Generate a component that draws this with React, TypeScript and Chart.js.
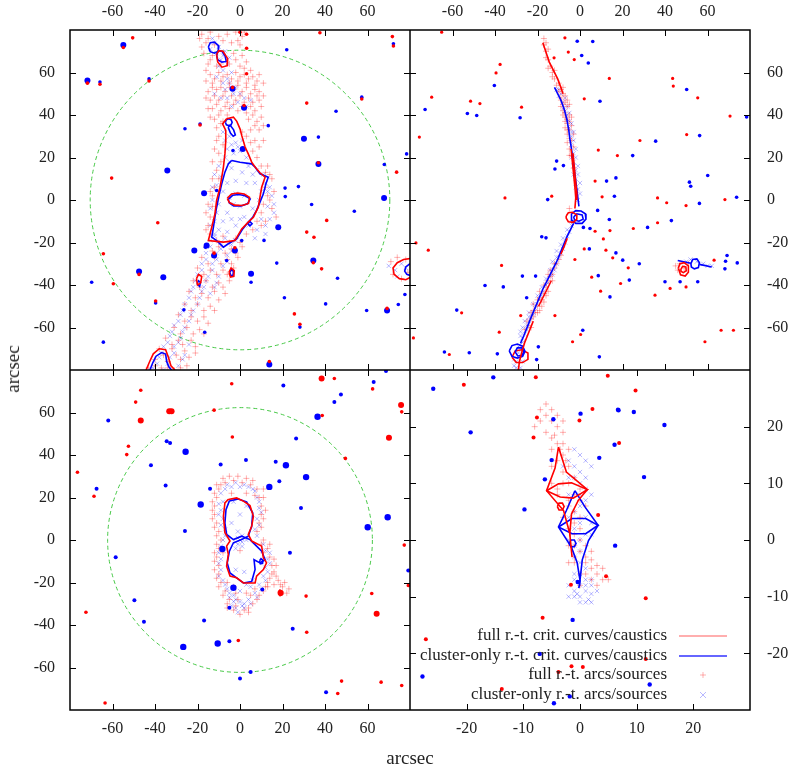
import React, { useEffect, useRef } from "react";
import { Chart, registerables } from "chart.js";
Chart.register(...registerables);

// ---------- axes ----------
const wideTicks = [-60, -40, -20, 0, 20, 40, 60];
const narrowTicks = [-20, -10, 0, 10, 20];
const wideRange = [-80, 80];
const narrowRange = [-30, 30];
const tlCircleRadius = 70.5;
const blCircleRadius = 62.3;
const axisTitle = "arcsec";
const legendLabels = [
  "full r.-t. crit. curves/caustics",
  "cluster-only r.-t. crit. curves/caustics",
  "full r.-t. arcs/sources",
  "cluster-only r.-t. arcs/sources",
];

// ---------- top-left panel ----------
const tlRedCrit = [-6.3,38.2, -3.1,39.0, -1.5,37, 0,33.5, 0.8,30.4, 2.4,24.9, 3.9,21.7, 5.5,17.8, 7.1,15.5, 9.4,12.8, 11.8,10.7, 10.2,6.0, 9.4,1.3, 8.6,-3.4, 6.3,-8.1, 3.9,-10.4, 0.8,-13.6, -2.4,-19.1, -7.8,-19.8, -14.9,-19.1, -13.3,-12.8, -11.8,-6.5, -11.0,-0.2, -9.4,6.0, -8.6,10.7, -7.8,15.5, -7.1,21.7, -6.7,28.0, -6.7,32.7, -8.2,35.8, -6.3,38.2];
const tlBlueCrit = [-3.9,18.6, 0,17.8, 5.5,17.0, 7.1,15.5, 9.4,12.3, 13.3,10.7, 12.2,7.6, 11.0,2.9, 9.4,-1.0, 7.8,-4.9, 6.0,-8.1, 3.9,-10.4, 1.3,-13.6, -1.6,-18.3, -5.5,-20.6, -7.8,-22.2, -11.0,-19.1, -13.3,-17.5, -12.5,-12.8, -11.8,-8.1, -11.0,-3.4, -9.7,2.9, -8.6,7.6, -7.1,13.1, -5.5,17.0, -3.9,18.6];
const tlRedInner = [-6,0.8, -4,2.8, -1,3.3, 2,2.8, 4.5,1.2, 4,-1.6, 1,-2.6, -2.5,-2.4, -5,-1.2, -6,0.8];
const tlBlueInner = [-5.5,0.3, -3.5,2.2, -0.5,2.6, 2.5,2, 4.8,0.5, 3.5,-1.8, 0.5,-2.8, -3,-2.8, -5,-1.4, -5.5,0.3];
const tlBlueTopCircle = [-6.9,36.6, -6.4,37.8, -5.3,38.2, -4.2,37.8, -3.7,36.6, -4.2,35.4, -5.3,35, -6.4,35.4, -6.9,36.6];
const tlBlueTopOval = [-5.6,34.3, -4.5,35, -3,33, -2.2,30.6, -3.2,30, -4.5,31.5, -5.6,34.3];
const tlBlueSmallLoop = [3.7,-11.2, 4.7,-10.2, 5.7,-11.2, 4.7,-12.2, 3.7,-11.2];
const tlRedTop = [-11,68.5, -10,70.3, -8,70, -5.8,66.5, -6,63.2, -8.5,62.5, -10.5,65, -11,68.5];
const tlBlueTop1 = [-14.9,72, -14,74, -12,74.3, -10,72.5, -10.2,70, -12,69.1, -14,69.8, -14.9,72];
const tlBlueTop2 = [-11,68, -10.3,70.2, -8.5,70, -7,67.8, -6.5,65.2, -8.5,64.9, -10.5,66, -11,68];
const tlRedBottom = [-44.2,-80, -42.5,-76, -40.8,-72.4, -38,-70, -35,-70.5, -33.7,-74, -32.5,-78, -30.6,-80];
const tlBlueBottom = [-42.4,-80, -41,-76.5, -39.5,-73.5, -36.9,-71.8, -35,-72.5, -34.5,-76, -33.5,-78.5, -32.2,-80];
const tlRedRight = [80,-27.5, 77,-28, 74,-29.5, 72,-32, 72.5,-35, 75,-37, 78,-37.5, 80,-36.5];
const tlBlueRight = [80,-30, 78,-31.5, 77.5,-33.5, 78.5,-35, 80,-35.5];
const tlRedSmall1 = [-20.5,-37, -19.5,-35, -18,-36, -18.5,-39, -20,-40, -20.5,-37];
const tlBlueSmall1 = [-20.2,-39.5, -19.5,-38, -18.6,-38.8, -19,-40.7, -20.2,-39.5];
const tlRedSmall2 = [-5.2,-34, -4.2,-32, -2.7,-33.2, -2.9,-35.9, -4.5,-36.3, -5.2,-34];
const tlBlueSmall2 = [-4.8,-34, -4,-32.8, -3.1,-33.6, -3.3,-35.4, -4.3,-35.7, -4.8,-34];

const tlArcsFull = [-18,78, -14,79, -10,77, -6,78, -2,79, 1,77, -16,74, -12,73, -4,74, 0,73, -17,69, -13,68, -3,69, 1,68, -15,64, -11,63, -5,64, 0,63, 3,65,
  -14,59, -10,60, -6,59, -2,60, 2,59, 6,58, -13,55, -9,56, -5,55, -1,56, 3,55, 7,54, -15,51, -11,52, -7,51, -3,52, 1,51, 5,50, 9,51, -14,47, -10,47, -6,46, -2,47, 2,46, 6,46, 9,47, -13,43, -9,42, -5,43, -1,42, 3,41, 7,42, -12,38, -8,37, 4,38, 8,37, -11,34, 5,33, 9,33,
  -12,57, -8,58, -4,57, 0,58, 4,57, 8,56, -13,53, -9,53, -5,53, -1,54, 3,53, 7,52, -12,49, -8,49, -4,49, 0,49, 4,48, 8,49, -11,45, -7,44, -3,45, 1,44, 5,44, -10,40, -6,40, 6,40, -9,36, 7,35,
  -19,76, -15,76, -8,75, -1,75, 2,79, -18,72, -14,66, -9,64, -2,66, 2,62, -16,61, 5,61, 9,59, 11,55, 11,49, 10,44, 10,39, 11,35, -16,56, -16,48, -15,43, -14,39,
  -10,30, -8,26, -10,22, -9,18, -11,14, -10,10, 3,30, 5,27, 6,23, 8,20, 10,16, 12,13, 14,12, 11,28, 9,25,
  -13,18, -12,24, -11,28, -13,10, -14,4, -15,-2, -16,-6, -16,-14, 13,16, 15,10, 14,0, 12,-10, 10,-12, 6,-14, 16,4, 7,28, 1,32,
  -12,6, -13,2, -13,-3, -14,-8, -15,-12, 12,6, 13,2, 11,-2, 10,-6, 8,-10, 15,-4, 17,-8,
  -14,-16, -8,-17, -2,-18, 3,-16, -16,-22, -10,-22, -4,-23, 1,-22, -18,-27, -12,-27, -6,-28, -1,-27, -20,-32, -14,-33, -8,-33, -3,-32, -22,-38, -16,-38, -10,-39, -5,-38, -24,-43, -18,-44, -12,-43, -7,-44, -26,-49, -20,-49, -14,-50, -29,-54, -23,-55, -17,-55, -31,-60, -25,-60, -19,-61, -35,-65, -29,-66, -23,-66, -38,-70, -32,-70, -26,-71, -21,-69, -40,-75, -34,-76, -28,-75, -43,-79, -37,-79, -31,-80, -25,-78,
  -11,-19, -5,-20, 0,-20, -13,-24, -7,-25, -2,-25, -15,-30, -9,-30, -4,-30, -17,-35, -11,-35, -6,-35, -19,-41, -13,-41, -8,-41, -21,-46, -15,-46, -10,-47, -23,-52, -17,-52, -12,-52, -26,-57, -20,-57, -15,-58, -28,-63, -22,-63, -17,-63, -32,-68, -27,-68, -21,-72, -36,-73, -30,-73, -24,-74, -40,-78, -34,-79, -28,-79,
  71,-29, 74,-27, 78,-28, 72,-35, 76,-37, 79,-34];
const tlArcsCluster = [-13,76, -10,72, -7,70, -9,66, -6,64, -14,71, -8,61, -5,55, -3,50, -1,46, -7,52, -4,44, 2,48, -9,48,
  -12,74, -11,69, -8,68, -5,67, -10,63, -4,60, -6,57, -2,53, 0,50, -8,55, -11,58, -12,50, -6,48, 3,44, 5,47,
  -8,32, -5,30, -2,27, 1,28, -6,24, -3,22, 0,23, 3,20, -4,15, 1,13, 6,12, 11,12, -9,11, -11,7, -8,4, -5,1, -10,-2, -11,-6, -12,-10, -10,-14, -6,-15, -2,-12, 2,-8, 6,-4, 9,0, 10,4, 12,8, 14,6, -2,3, 0,-3, -3,-2, 2,2, 13,-3, 16,-6, 10,-9,
  -7,28, -4,26, -1,25, 2,24, -7,20, -5,18, 4,16, 8,14, -10,16, -12,12, -13,6, -13,0, -14,-4, -14,-12, -12,-16, -8,-10, -6,-6, -4,-9, 0,-9, 4,-12, 8,-14, 12,-12, 14,-9, 16,-2, 15,2, 13,4, 7,8, 3,8, -2,9, -6,8, 12,-16, 7,-18,
  -14,-19, -9,-20, -4,-21, -16,-25, -11,-25, -6,-26, -18,-30, -13,-30, -8,-31, -20,-35, -15,-36, -10,-36, -22,-41, -17,-41, -12,-41, -24,-46, -19,-46, -27,-52, -22,-52, -29,-57, -24,-57, -32,-62, -27,-62, -34,-67, -29,-67, -24,-68, -37,-72, -31,-72, -26,-73, -39,-77, -34,-77, -29,-78,
  -12,-17, -7,-18, -2,-19, -14,-22, -9,-23, -4,-24, -16,-28, -11,-28, -6,-29, -18,-33, -13,-33, -21,-38, -16,-38, -11,-39, -23,-43, -18,-43, -14,-44, -26,-49, -20,-49, -28,-54, -23,-54, -31,-59, -26,-60, -33,-64, -28,-65, -36,-69, -31,-69, -38,-74, -33,-74, -27,-75, -41,-79, -36,-80,
  70,-31, 73,-33, 76,-30, 74,-36, 78,-32];
const tlBlueBlobs = [-71.8,56.2, -54.9,73, -34.2,13.9, -16.9,3.2, 30.1,28.8, 36.9,16.9, 18,-12.8, -47.5,-33.6, -36.1,-36.3, 5.2,-34.7, 34.5,-28.5, 69.2,-52, 13.8,-77.4, -15.7,-21.4, -21.5,-23.8, -12.2,-26.1, -2.4,-23.8, 1.3,24, 67.8,0.9, -3.5,52.3, 1.9,43.4];
const tlBlueDots = [0.8,-19.1, -11,4.5, -3.3,23.3, 53.8,-5.3, 33.7,-2.1, 27.5,6.3, 21.2,5.6, 21.3,1.6, 11.3,-19, 45.2,41.8, 57.3,48.4, 36.9,29.6, 13.3,35, -25.9,33.5, -18.8,35.8, 5.2,-38.7, 45.9,-36.8, 17.3,-29.7, 20.9,-46, 40.3,-48.9, 28.2,-59.8, -26.4,-51.7, -16.6,-62.2, -42.8,57, 72.2,73.5, 67.9,16.7, 78.4,21.7, 74.5,-49.2, 77.6,-44.5, 59.6,-52, -64.3,-66.9, -65.9,55.5, 22,70.7, -6.3,-28.5, -16.3,-22.2, -69.8,-38.7, -39.7,-48.5];
const tlRedDots = [-71.8,55, -54.9,71.8, -42.8,56, -47.5,-35, 36.9,17.5, 72.2,72.5, 57.3,47.5, 38.4,-32.4, 34.5,-29.5, 28.2,-58.5, 25.6,-53.6, 69.2,-51, -39.7,-47.5, -12.2,-25, 13.8,-76, -2.4,-22.5, 1.9,44.5, -3.5,53, 31.4,45.6, -60.4,10.3, -38.7,-10.7, 31.4,-15.1, 34.8,-17.5, 40.8,-9.6, 73.7,13.1, -64.3,-25.3, -50.5,76.3, 37.6,78.7, 71.7,76.9, -59.6,-39.4, 0,79, 3.1,78, 3.1,71.4, 3.1,59.4, -18.8,35.3, -65.9,54.5];

// ---------- top-right panel ----------
const trRedA = [-17.5,74, -16,69.5, -14.5,65, -12.5,61, -10.5,57, -9,53, -8,50];
const trRedC = [-4.2,24, -3.6,18, -3.0,12, -2.4,6, -2.0,1, -2.4,-4];
const trRedC2 = [-3.3,22, -2.7,16, -2.2,10, -1.6,4, -1.5,0];
const trRedD = [-6,-18, -7.5,-22, -9,-25.5];
const trRedE = [-13.5,-38, -15.5,-42, -17.5,-46, -19.5,-50];
const trRedF = [-22,-57, -24,-62, -26,-67, -27.5,-72, -28.5,-76, -29,-80];
const trBlueA = [-12,53, -10.5,50, -9,47, -7.5,43, -6.2,38, -5.3,33, -4.8,29, -4,24, -3.2,18, -2.4,12, -1.6,6, -1,1, -0.5,-3];
const trBlueC = [-3,-11, -4,-13, -6,-17, -8.5,-23, -10.5,-28, -13,-33, -15,-37, -17.5,-42, -20,-48, -22.5,-54, -24.5,-59, -26.5,-64, -28,-67.5];
const trRedLoop1 = [-6.5,-7.5, -5.5,-6, -3.5,-5.8, -1.5,-7, -1.5,-9, -3,-10.5, -5.5,-10.2, -6.5,-8.5, -6.5,-7.5];
const trBlueLoop1 = [-4,-6.5, -2,-5, 0.5,-5.2, 2.5,-6.5, 2.8,-9, 1,-11, -2,-11, -3.8,-9.5, -4,-6.5];
const trBlueLoop2 = [-3,-8, -1.5,-6.5, 1,-7, 1.5,-9, -0.5,-10, -2.5,-9.5, -3,-8];
const trBlueLoop3 = [-33.3,-71, -32,-68.5, -29.5,-67.8, -27,-68.8, -25.9,-71.2, -27,-73.6, -29.5,-74.4, -32,-73.6, -33.3,-71];
const trBlueLoop3b = [-30.5,-71.5, -29.5,-69.6, -27.5,-69.5, -26.4,-71.3, -27.3,-73.2, -29.3,-73.4, -30.5,-71.5];
const trRedLoop3 = [-32,-74, -30.5,-71, -27.5,-70.5, -24.5,-72, -24.5,-75, -27,-76.5, -30,-76.5, -32,-74];
const trRedLoop4 = [46.3,-32, 47,-30, 49,-29.5, 51,-31, 51,-34, 49.5,-35.8, 47.3,-35.2, 46.3,-32];
const trRedLoop4b = [47.5,-32.5, 48.3,-31.2, 49.8,-31.5, 50,-33.3, 48.6,-34.2, 47.5,-33.5, 47.5,-32.5];
const trBlueLoop4 = [52.2,-30, 53,-28, 55,-27.7, 56.2,-29.5, 55.7,-31.8, 53.8,-32.4, 52.4,-31.5, 52.2,-30];
const trBlueTail1 = [46,-28.5, 52.2,-29.8];
const trBlueTail2 = [56.2,-30.3, 62,-31.5];

const trArcsFull = [-17,73, -16,70, -15,66, -15,62, -13,60, -12,57, -11,54, -10,51, -9,48, -8,45, -8,42, -7,39, -6,36, -5,33, -6,31, -4,28, -5,24, -4,21, -6,44, -7,41, -9,47, -4,35, -7,46, -5,40, -6,38, -8,50, -10,55, -14,63, -3,15,
  -9,52, -8,53, -7,49, -6,47, -5,45, -9,44, -8,40, -7,37, -5,37, -4,39, -6,33, -7,34, -3,31, -5,29, -6,27, -3,25, -5,21, -13,58, -12,61, -16,67, -15,71, -17,76, -16,74,
  -10,-28, -12,-32, -13,-35, -15,-38, -16,-41, -17,-44, -18,-47, -20,-50, -21,-53, -23,-56, -24,-59, -14,-36, -19,-46, -22,-52, -11,-30, -16,-45, -18,-50, -20,-53, -4,-10, -5,-4,
  -9,-26, -12,-30, -14,-33, -15,-35, -13,-38, -17,-40, -15,-43, -19,-43, -20,-47, -17,-48, -22,-49, -19,-52, -23,-53, -22,-55, -25,-57, -23,-60, -26,-61,
  45,-31, 47,-30, 49,-32, 51,-30, 46,-33];
const trArcsCluster = [-11,52, -10,49, -8,46, -7,42, -6,38, -5,34, -4,30, -4,26, -3,22, -3,18, -2,14, -2,10, -1,5, -1,0, -3,-10, -5,-15, -7,-20, -8,-23, -10,-27, -12,-31, -13,-35, -15,-39, -17,-43, -19,-47, -21,-51, -23,-55, -25,-59, -26,-63, -27,-67, -29,-72, -30,-76, -30,-79, -28,-62, -24,-57, -9,-25, -6,-17, -11,-30, -14,-36, -22,-54, -27,-65,
  -10,52, -9,50, -7,48, -6,44, -8,43, -5,41, -6,40, -4,36, -5,37, -3,32, -4,32, -3,28, -2,24, -4,20, -2,20, -1,16, -3,16, -1,12, -3,12, 0,8, -2,6, 0,3, -4,-12, -6,-14, -8,-18, -9,-21, -11,-24, -11,-27, -13,-29, -12,-33, -14,-33, -16,-37, -16,-40, -18,-41, -18,-45, -20,-45, -20,-49, -22,-49, -22,-53, -24,-53, -24,-55, -26,-57, -25,-61, -27,-60, -28,-64, -29,-69, -31,-75, -31,-78, -28,-79, -27,-76,
  52,-28, 55,-29, 58,-30, 60,-31, 62,-31, 50,-29];
const trRedDots = [-65.1,79, -7.1,76.3, -5.5,69.6, -2.7,66.1, -12.2,66.9, -37.6,63.8, -39.5,59.8, 13.8,57.2, 43.6,57.2, 43.9,53.6, 55.4,48.1, 70.6,39.5, 50.2,30.8, 28.2,28, 8.6,23.5, 17.6,20.9, 7.1,8.9, 10.4,1.5, -13.3,1.8, -35.3,1, -51.5,46.5, -47.1,45.4, -27.5,43.7, -69.8,48.4, -75.6,29.6, 2,47.6, -71.4,-23.6, -77.2,-20.2, 36.5,1, 40.8,-1.3, 49.9,-2.6, 68.2,0.2, 36.5,-10.7, 25.1,-13.4, 14.1,-14.4, 11,-18.3, 12.2,-23.6, 15.4,-27.2, 22.7,-31.9, 19.1,-39.3, 5.5,-36.3, 9.7,-42.9, 35.3,-44.8, 42.4,-41.6, 49.9,-40.9, 2,-23, -2.4,-28, -11.8,-54.4, -27.9,-54.4, -38,-62.2, -55.7,-53.1, -61.5,-72.7, 0.3,-63.3, -3.5,-66.7, 58.8,-66.7, 66.4,-61.3, 72.2,-61.3, 63.1,-28.3, -78.4,-64.9, -36.9,-30.8, 7.1,-14.7];
const trBlueDots = [-1.3,74.7, 6,74.6, 0.8,68, 3.9,64.5, 9.4,46.5, -40.3,53.9, -53,40.7, -72.9,42.6, -48.6,39.8, -28.2,38.7, 50.2,52, 56.3,30.3, 35.6,27.7, 24.8,20.9, 16.9,10.4, 12.5,8.9, 16.2,1.8, -15.2,0.2, -11.8,14.6, -7.8,16.2, -11,18.3, 8.3,-4.9, 13.8,-9.2, 1.6,-12.9, 4.7,-13.4, -18,-17.3, -16,-17.8, 4.4,-23, 16.9,-24.9, 20.1,-28.3, 27.9,-30, 31.8,-12.9, 43,-9.7, 56.2,-1.6, 52.1,6.5, 51.5,8.4, 60.1,11.5, 73.7,1.3, 78.4,39.1, 69.2,-26.1, 68.5,-28.8, 74,-29.6, 68.2,-32.4, 55.4,-38.5, 47.1,-38.5, 40,-38.5, 23.2,-37.7, 14.1,-45.6, 8.6,-35.6, -25.1,-46, -20.9,-35.8, -27.1,-35.8, -36.1,-40.9, -44.7,-40.2, -58,-51.8, -63.8,-71.5, -52.1,-71.9, -38.9,-72.4, -20.4,-75.1, 1.3,-61.3, 9.1,-73.8, -19.6,-69.1];

// ---------- bottom-left panel ----------
const blRedCrit = [-5.5,19.1, -1.6,19.8, 1.6,18.3, 4.7,16.2, 6.3,11.2, 5.5,6.5, 3.9,2.6, 5.5,-0.5, 10.2,-2.9, 11,-8.4, 12.5,-10.7, 11,-13.9, 7.8,-17, 7.1,-20.2, 1.6,-20.2, -1.6,-17.8, -4.7,-17, -6.3,-12.3, -5.5,-6.8, -6.3,-2.9, -4.7,-0.5, -7.1,3.4, -7.8,11.2, -7.1,17.5, -5.5,19.1];
const blBlueCrit = [-5,18.4, -0.8,19.3, 3.1,17.9, 6,12.7, 5.5,6.5, 3.9,1.8, 0.8,0.2, -3.1,-1.3, -5,-5.3, -6,-10.8, -4.7,-15.5, -1.6,-17.8, 1.6,-20.2, 5.5,-19.5, 7.1,-13.9, 6.6,-9.3, 9.4,-10.8, 11.8,-9.3, 10.2,-5.3, 7.8,-2.9, 4.7,0.2, 0.8,1.8, -3.1,0.2, -6.3,2.6, -7.1,8, -6.6,14.3, -5,18.4];
const blBlueLoop = [9.2,-9.8, 9.9,-8.8, 10.8,-9.6, 10.6,-11, 9.6,-11.2, 9.2,-9.8];
const blRedLoop = [18,-24.5, 18.8,-23.5, 20,-24.2, 20,-25.6, 18.9,-26.2, 18,-24.5];

const blArcsFull = [-7,27, -3,28, 1,27, 5,26, 8,24, -10,24, -11,20, -12,16, -12,12, -11,8, -10,4, 9,20, 10,16, 10,12, 9,8, 8,4, -9,0, -10,-4, -11,-8, -10,-12, -10,-16, -9,-20, -7,-24, -5,-28, -2,-31, 2,-33, 6,-30, 9,-26, 12,-22, 14,-18, 16,-15, 18,-19, 20,-22, 22,-25, 15,-12, 14,-8, 13,-4, 11,0, -2,-25, 3,-25, 7,-23, -4,22, 3,22, 0,-5, -8,-6, -9,26, 7,21, 11,-6, 16,-21, 13,-20, 4,-34, -6,-32,
  -8,29, -5,30, -1,30, 3,29, 6,28, -11,26, -12,22, -13,18, -13,14, -13,10, -12,6, -11,2, -11,-2, -12,-6, -12,-10, -12,-14, -11,-18, -10,-22, -8,-26, -6,-30, -3,-33, 0,-35, 4,-32, 8,-28, 11,-24, 13,-22, 15,-16, 17,-17, 19,-21, 21,-20, 23,-23, 17,-12, 16,-9, 14,-2, 10,-2, 11,20, 11,24, 12,14, 11,10, 10,6, -6,-20, -3,-22, 5,-26, -1,-28];
const blArcsCluster = [-6,26, -2,27, 2,26, 6,24, -9,22, -10,17, -10,12, -9,7, 8,20, 9,15, 8,10, 7,5, -7,2, -1,4, 1,2, -2,-1, -9,-3, -9,-9, -9,-14, -8,-19, -6,-23, -3,-26, 0,-29, 4,-28, 7,-25, 9,-21, 11,-17, 12,-13, 13,-9, -4,-31, -1,-34, 2,-30, -5,-27, 5,-22, -4,8, 0,12, 3,16, -3,18, 0,0, -1,1, 1,-1,
  -7,24, -4,25, 0,25, 4,25, 7,23, -8,18, -9,14, -8,10, -7,5, 9,18, 10,13, 9,7, 8,2, -8,0, -10,-6, -10,-11, -10,-17, -7,-21, -5,-25, -2,-28, 1,-31, 5,-30, 8,-27, 10,-23, 12,-19, 13,-15, 14,-11, 14,-6, 12,-5, 11,-2, 2,-32, -2,-32, -3,-29, 0,-24, 3,-21, 6,-19, 2,-15, -2,-14, -2,-4, 1,-3, 3,0, -1,-2];
const blRedBlobs = [38.4,76, -46.7,56.2, -33.3,60.6, -32.2,60.6, 70.1,48.1, 64.3,-34.7, 19.1,-24.9, 75.8,63.5];
const blRedDots = [-46.7,70.5, -49.1,64.9, -12.2,61.1, -3.9,73.5, 44.4,76, 62.4,71.1, 76.1,60.3, 38.7,58.6, 49.6,38.4, -3.6,48.5, -52.5,44.1, -53.3,40.2, -76.5,31.9, -68.7,20.6, 77.3,-2.4, 79.2,-21.4, 62,-25.2, 31.1,-26.4, 31.4,-43.4, -72.5,-34, -0.8,-47.3, 47.8,-66.4, 46,-72.2, 66.4,-66.9, 76.1,-68.5, -63.5,-76.7];
const blBlueBlobs = [-25.6,41.5, -18.5,16.7, 13.8,25, 21.6,35.2, 31.1,29.6, 60.1,6, -26.7,-50.3, -10.5,-48.7, 69.5,10.7, -3.1,-22.5, -8.3,-4.2, 36.5,58];
const blBlueDots = [-62,56.2, -41.9,35.2, -34.5,46.5, -32.9,45.7, -35,25.6, -25.9,4.2, -14.1,24.1, -9.1,35.5, 2.8,37.6, 16.8,36.8, 18.5,27.7, 26.4,47.8, 28.7,15.1, 44.4,65, 47.5,68.5, 20.4,72.7, 62.9,74.3, 68.7,79.5, -67.5,24.1, -58.5,-8.1, 23.5,-6, 10.5,-23.3, -5,-31.9, -49.7,-28.3, -45.2,-38.5, -16.9,-37.9, -5,-47.6, 5,-62.1, 0,-65.2, 24.8,-41.8, 40.5,-71.6, 79.2,-14.4];

// ---------- bottom-right panel ----------
const brRedCaustic = [-3.8,16.4, -4.4,12.7, -5.9,8.7, -2.9,5.2, -1.8,1.1, -1.5,4.6, -0.3,7, 1.3,8.9, -2.4,12, -3.8,16.4];
const brRedLens = [-5.9,8.7, -3.8,9.9, -1.5,10.1, 1.3,8.9, -1.2,7.4, -3.5,7.6, -5.9,8.7];
const brRedTail = [-1.8,1.1, -1.6,-1, -1.4,-3];
const brRedCircle = [-4,5.9, -3.7,6.5, -3.1,6.5, -2.8,5.9, -3.1,5.3, -3.7,5.3, -4,5.9];
const brBlueCaustic = [-0.9,8.7, -2.4,5.2, -3.8,2.3, -1.5,-1.3, -0.5,-4, 0,-7.1, 0.4,-3.5, 1.5,-0.1, 3.2,2.6, 0.9,5.8, -0.9,8.7];
const brBlueLens = [-3.8,2.3, -1.4,3.8, 1,3.8, 3.2,2.6, 1,1.1, -1.4,1.1, -3.8,2.3];
const brBlueTail = [0,-7.1, -0.2,-8.5];
const brBlueCircle = [-1.9,-0.6, -1.6,0, -1,0, -0.7,-0.6, -1,-1.2, -1.6,-1.2, -1.9,-0.6];

const brArcsFull = [-6,22, -5,21, -4,20, -6,19, -5,18, -3,19, -4,17, -5,16, -3,15, -4,14, -2,13, -3,12, -1,11, -2,10, -4,9, -1,8, 0,7, -2,6, -1,5, 0,4, -1,3, -1,1, 0,0, -1,-1, 0,-2, 1,-3, 1,-4, 2,-5, 3,-6, 4,-7, -1,-4, 0,-6, -7,23, -8,20, -4.5,18.5, -3.5,16, -2.5,14, 2,-3.5, 3,-4.5,
  -6,24, -7,21, -5,23, -4,22, -3,21, -3,17, -2,16, -5,13, -3,10, -5,10, -4,8, -2,7, 0,9, 1,6, -3,4, 0,2, -2,-1, -1,-3, 1,-1, 2,-2, 1,-6, 2,-7, 3,-8, 5,-7, 4,-5, -2,2, -2,-4, 0,-8];
const brArcsCluster = [-2,14, -1,13, 0,12, -1,11, 0,10, 1,9, 0,8, -2,8, 1,7, 0,6, -1,5, 1,4, 0,3, -1,2, 1,1, 0,0, -1,-1, 0,-2, -1,-3, 0,-4, 1,-5, 0,-6, -1,-7, 0,-8, 1,-8, -1,-9, 0,-10, 1,-9, 2,-7, 1,14, -3,13, 2,-9.5, -0.5,-9.5, 1.5,-10.5,
  -1,-6, 1,-7, 2,-8, -1,-10, 1,-11, 0,-11, 2,-11, 3,-9, -2,-8, -2,-10, -1,16, 0,15, 2,13, -2,11, 1,11, 2,8, -2,4, 2,3, 2,1, -2,0];
const brRedDots = [-8.2,18.1, -0.1,21.1, 2.2,23.1, 6.9,17.1, 3.2,4.4, 4.6,-6.4, -1.6,-7.9, 11.6,-10.3, -7.6,21.6, 4.9,29, 9.8,26.4, -20.5,27.4, -7.8,28.7, -6.6,-13.7, -27.2,-17.5, -1.5,-22.3, -3.8,-23.3, -13.8,-26.3, 0.5,-22.4, 11.6,-21];
const brBlueDots = [-5,14.1, -6.2,10.7, 3.4,14.5, 6.1,16.8, 6.8,22.9, 9.5,22.6, 0.1,22.3, 11.3,11.1, -9.8,5.4, 6.2,-1, -0.4,-7.4, -15.3,28.7, -25.9,26.7, -19.3,19, -4.7,21.3, 6.7,23, 14.9,20.3, -1.3,-14.1, -7.1,-20.1, -27.8,-24.1, -1.8,-27.6, 12.3,-25.5, -4.6,-28.8];

// ---------- styling helpers ----------
const FONT = "'Liberation Serif', 'Times New Roman', serif";
const RED = "#ff0000";
const BLUE = "#0000ff";
const RED_ARC = "rgba(255,0,0,0.3)";
const BLUE_ARC = "rgba(0,0,255,0.28)";

const toPoints = (a: number[]) => {
  const out: { x: number; y: number }[] = [];
  for (let i = 0; i < a.length; i += 2) out.push({ x: a[i], y: a[i + 1] });
  return out;
};
const curve = (a: number[], color: string) => ({
  data: toPoints(a), showLine: true, borderColor: color, borderWidth: 1.6,
  pointRadius: 0, fill: false, tension: 0, order: 0,
});
const dots = (a: number[], color: string, r: number) => ({
  data: toPoints(a), showLine: false, pointRadius: r, pointStyle: "circle",
  backgroundColor: color, borderColor: color, borderWidth: 0, order: 1,
});
const arcs = (a: number[], full: boolean) => ({
  data: toPoints(a), showLine: false, pointRadius: 3,
  pointStyle: full ? "cross" : "crossRot",
  borderColor: full ? RED_ARC : BLUE_ARC, backgroundColor: "transparent",
  borderWidth: 1, order: 2,
});

type PanelProps = {
  left: number; top: number; width: number; height: number;
  xPos: "top" | "bottom"; yPos: "left" | "right";
  range: number[]; ticks: number[]; datasets: any[];
  circleR?: number; legend?: boolean;
};

function Panel(p: PanelProps) {
  const ref = useRef<HTMLCanvasElement>(null);
  useEffect(() => {
    const canvas = ref.current!;
    const xSize = p.height - 340;
    const ySize = p.width - 340;
    const frame = {
      id: "frame",
      beforeDatasetsDraw(chart: any) {
        if (!p.circleR) return;
        const { ctx, scales } = chart;
        const cx = scales.x.getPixelForValue(0);
        const cy = scales.y.getPixelForValue(0);
        const r = scales.x.getPixelForValue(p.circleR) - cx;
        ctx.save();
        ctx.strokeStyle = "rgb(70,200,70)";
        ctx.lineWidth = 1;
        ctx.setLineDash([4, 3]);
        ctx.beginPath();
        ctx.arc(cx, cy, r, 0, Math.PI * 2);
        ctx.stroke();
        ctx.restore();
      },
      afterDatasetsDraw(chart: any) {
        if (!p.legend) return;
        const { ctx, chartArea } = chart;
        const textRight = chartArea.left + 257;
        const sx0 = chartArea.left + 269;
        const sx1 = chartArea.left + 317;
        const mx = (sx0 + sx1) / 2;
        const rows = [266, 286, 305, 325];
        ctx.save();
        ctx.font = `17px ${FONT}`;
        ctx.fillStyle = "#222";
        ctx.textAlign = "right";
        ctx.textBaseline = "middle";
        legendLabels.forEach((t, i) => ctx.fillText(t, textRight, rows[i]));
        ctx.lineWidth = 1.5;
        ctx.strokeStyle = "rgba(255,60,60,0.55)";
        ctx.beginPath(); ctx.moveTo(sx0, rows[0]); ctx.lineTo(sx1, rows[0]); ctx.stroke();
        ctx.strokeStyle = "rgba(0,0,255,0.8)";
        ctx.beginPath(); ctx.moveTo(sx0, rows[1]); ctx.lineTo(sx1, rows[1]); ctx.stroke();
        ctx.lineWidth = 1;
        ctx.strokeStyle = RED_ARC;
        ctx.beginPath();
        ctx.moveTo(mx - 3, rows[2]); ctx.lineTo(mx + 3, rows[2]);
        ctx.moveTo(mx, rows[2] - 3); ctx.lineTo(mx, rows[2] + 3);
        ctx.stroke();
        ctx.strokeStyle = BLUE_ARC;
        ctx.beginPath();
        ctx.moveTo(mx - 3, rows[3] - 3); ctx.lineTo(mx + 3, rows[3] + 3);
        ctx.moveTo(mx - 3, rows[3] + 3); ctx.lineTo(mx + 3, rows[3] - 3);
        ctx.stroke();
        ctx.restore();
      },
      afterDraw(chart: any) {
        const { ctx, chartArea, scales } = chart;
        const { left, right, top, bottom } = chartArea;
        ctx.save();
        ctx.strokeStyle = "#000";
        ctx.lineWidth = 1;
        ctx.beginPath();
        p.ticks.forEach((v) => {
          const px = Math.round(scales.x.getPixelForValue(v)) + 0.5;
          ctx.moveTo(px, top); ctx.lineTo(px, top + 6);
          ctx.moveTo(px, bottom); ctx.lineTo(px, bottom - 6);
          const py = Math.round(scales.y.getPixelForValue(v)) + 0.5;
          ctx.moveTo(left, py); ctx.lineTo(left + 6, py);
          ctx.moveTo(right, py); ctx.lineTo(right - 6, py);
        });
        ctx.stroke();
        ctx.lineWidth = 1.5;
        ctx.strokeRect(left, top, right - left, bottom - top);
        ctx.restore();
      },
    };
    const tickFont = { family: FONT, size: 16 };
    const chart = new Chart(canvas, {
      type: "scatter",
      data: { datasets: p.datasets },
      options: {
        responsive: false,
        animation: false,
        devicePixelRatio: 1,
        events: [],
        layout: { padding: 0, autoPadding: false },
        plugins: { legend: { display: false }, tooltip: { enabled: false } },
        scales: {
          x: {
            type: "linear", position: p.xPos, min: p.range[0], max: p.range[1],
            afterBuildTicks: (s: any) => { s.ticks = p.ticks.map((v) => ({ value: v })); },
            afterFit: (s: any) => { s.height = xSize; s.paddingLeft = 0; s.paddingRight = 0; s.paddingTop = 0; s.paddingBottom = 0; },
            grid: { display: false, drawTicks: false },
            border: { display: false },
            ticks: { font: tickFont, color: "#222", padding: 9, maxRotation: 0, autoSkip: false, callback: (v: any) => String(v) },
          },
          y: {
            type: "linear", position: p.yPos, min: p.range[0], max: p.range[1],
            afterBuildTicks: (s: any) => { s.ticks = p.ticks.map((v) => ({ value: v })); },
            afterFit: (s: any) => { s.width = ySize; s.paddingLeft = 0; s.paddingRight = 0; s.paddingTop = 0; s.paddingBottom = 0; },
            grid: { display: false, drawTicks: false },
            border: { display: false },
            ticks: { font: tickFont, color: "#222", padding: p.yPos === "left" ? 15 : 17, autoSkip: false, callback: (v: any) => String(v) },
          },
        },
      } as any,
      plugins: [frame],
    });
    return () => chart.destroy();
  }, []);
  return (
    <canvas
      ref={ref}
      width={p.width}
      height={p.height}
      style={{ position: "absolute", left: p.left, top: p.top, width: p.width, height: p.height }}
    />
  );
}

const tlDatasets = [
  curve(tlRedCrit, RED), curve(tlBlueCrit, BLUE), curve(tlRedInner, RED), curve(tlBlueInner, BLUE),
  curve(tlBlueTopCircle, BLUE), curve(tlBlueTopOval, BLUE), curve(tlBlueSmallLoop, BLUE),
  curve(tlRedTop, RED), curve(tlBlueTop1, BLUE), curve(tlBlueTop2, BLUE),
  curve(tlRedBottom, RED), curve(tlBlueBottom, BLUE), curve(tlRedRight, RED), curve(tlBlueRight, BLUE),
  curve(tlRedSmall1, RED), curve(tlBlueSmall1, BLUE), curve(tlRedSmall2, RED), curve(tlBlueSmall2, BLUE),
  dots(tlRedDots, RED, 1.8), dots(tlBlueBlobs, BLUE, 3), dots(tlBlueDots, BLUE, 1.8),
  arcs(tlArcsFull, true), arcs(tlArcsCluster, false),
];
const trDatasets = [
  curve(trRedA, RED), curve(trRedC, RED), curve(trRedC2, RED), curve(trRedD, RED),
  curve(trRedE, RED), curve(trRedF, RED), curve(trBlueA, BLUE), curve(trBlueC, BLUE),
  curve(trRedLoop1, RED), curve(trBlueLoop1, BLUE), curve(trBlueLoop2, BLUE),
  curve(trBlueLoop3, BLUE), curve(trBlueLoop3b, BLUE), curve(trRedLoop3, RED), curve(trRedLoop4, RED),
  curve(trRedLoop4b, RED), curve(trBlueLoop4, BLUE), curve(trBlueTail1, BLUE), curve(trBlueTail2, BLUE),
  dots(trRedDots, RED, 1.6), dots(trBlueDots, BLUE, 1.8),
  arcs(trArcsFull, true), arcs(trArcsCluster, false),
];
const blDatasets = [
  curve(blRedCrit, RED), curve(blBlueCrit, BLUE), curve(blBlueLoop, BLUE), curve(blRedLoop, RED),
  dots(blRedBlobs, RED, 3), dots(blRedDots, RED, 1.8), dots(blBlueBlobs, BLUE, 3.2), dots(blBlueDots, BLUE, 2),
  arcs(blArcsFull, true), arcs(blArcsCluster, false),
];
const brDatasets = [
  curve(brRedCaustic, RED), curve(brRedLens, RED), curve(brRedTail, RED), curve(brRedCircle, RED),
  curve(brBlueCaustic, BLUE), curve(brBlueLens, BLUE), curve(brBlueTail, BLUE), curve(brBlueCircle, BLUE),
  dots(brRedDots, RED, 2), dots(brBlueDots, BLUE, 2.2),
  arcs(brArcsFull, true), arcs(brArcsCluster, false),
];

export default function App() {
  return (
    <div style={{ position: "absolute", left: 0, top: 0, width: 789, height: 766, background: "#fff", fontFamily: FONT, color: "#222" }}>
      <Panel left={0} top={0} width={410} height={370} xPos="top" yPos="left" range={wideRange} ticks={wideTicks} datasets={tlDatasets} circleR={tlCircleRadius} />
      <Panel left={410} top={0} width={379} height={370} xPos="top" yPos="right" range={wideRange} ticks={wideTicks} datasets={trDatasets} />
      <Panel left={0} top={370} width={410} height={396} xPos="bottom" yPos="left" range={wideRange} ticks={wideTicks} datasets={blDatasets} circleR={blCircleRadius} />
      <Panel left={410} top={370} width={379} height={396} xPos="bottom" yPos="right" range={narrowRange} ticks={narrowTicks} datasets={brDatasets} legend />
      <span style={{ position: "absolute", left: 410, top: 758, transform: "translate(-50%,-50%)", fontSize: 19, whiteSpace: "nowrap" }}>{axisTitle}</span>
      <span style={{ position: "absolute", left: 13, top: 369, transform: "translate(-50%,-50%) rotate(-90deg)", fontSize: 19, whiteSpace: "nowrap" }}>{axisTitle}</span>
    </div>
  );
}
